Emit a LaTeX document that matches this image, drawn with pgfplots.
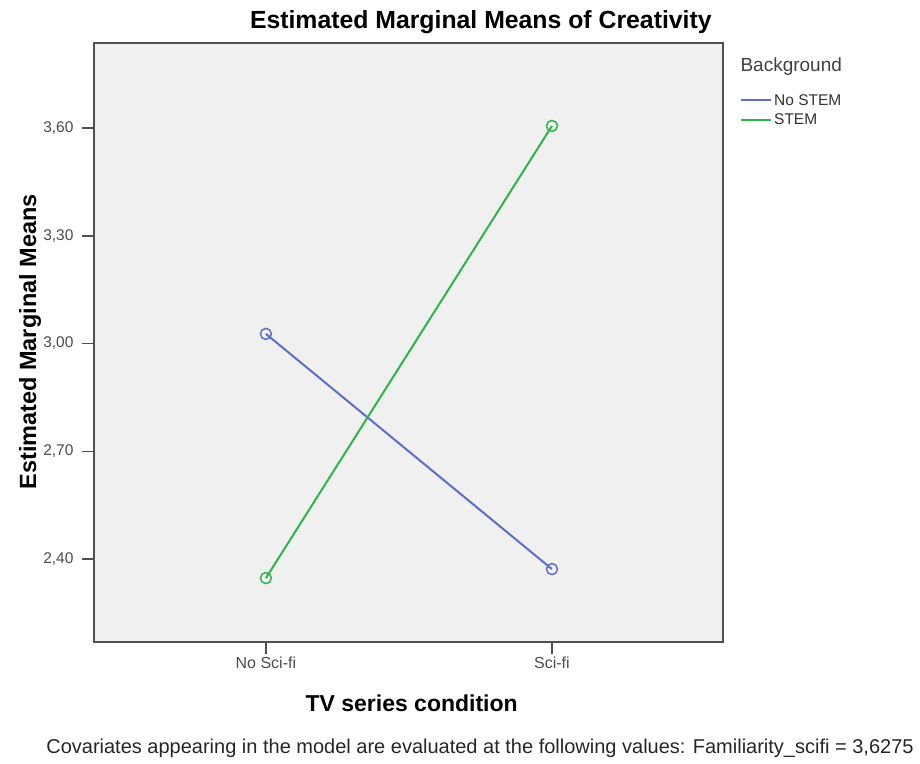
\documentclass[border=0pt]{standalone}
\usepackage{fontspec}
\setmainfont{Liberation Sans}
\usepackage{pgfplots}
\pgfplotsset{compat=1.18}
\definecolor{nostem}{RGB}{94,110,200}
\definecolor{stem}{RGB}{46,180,72}
\definecolor{framec}{RGB}{80,80,80}
\definecolor{bgc}{RGB}{240,240,240}
\begin{document}
\begin{tikzpicture}
\useasboundingbox (0,0) rectangle (920pt,763pt);
\begin{axis}[
  at={(94pt,121pt)}, anchor=south west,
  scale only axis, width=629pt, height=599pt,
  xmin=-0.601, xmax=1.598, ymin=2.169, ymax=3.837,
  xtick={0,1}, xticklabels={No Sci-fi, Sci-fi},
  ytick={2.4,2.7,3.0,3.3,3.6},
  yticklabel style={xshift=-5pt, /pgf/number format/.cd, fixed, fixed zerofill, precision=2, use comma},
  /pgf/number format/assume math mode=true,
  axis background/.style={fill=bgc},
  axis line style={framec, line width=2pt},
  tick style={framec, line width=1.5pt},
  tick align=outside, major tick length=12pt,
  xtick pos=bottom, ytick pos=left,
  ticklabel style={font=\fontsize{15.5}{17}\selectfont, text=black!70},
  xticklabel style={font=\fontsize{16}{18}\selectfont, yshift=1pt},
  title={Estimated Marginal Means of Creativity},
  title style={font=\bfseries\fontsize{24.8}{27}\selectfont, at={(axis description cs:0.615,1.024)}, anchor=center},
  xlabel={TV series condition},
  xlabel style={font=\bfseries\fontsize{23}{26}\selectfont, at={(axis description cs:0.505,-0.1018)}, anchor=center},
  ylabel={Estimated Marginal Means},
  ylabel style={font=\bfseries\fontsize{23.5}{26}\selectfont, at={(axis description cs:-0.1017,0.501)}, anchor=center},
  legend style={at={(axis description cs:1.027,0.918)}, anchor=north west, draw=none, fill=none,
    font=\fontsize{15.5}{17}\selectfont, text=black!80, row sep=3pt, inner sep=0pt,
    /tikz/every even column/.append style={column sep=0pt}},
  legend cell align=left,
  legend image code/.code={\draw[#1, line width=2pt] (0pt,0pt) -- (30pt,0pt);},
]
\addplot[nostem, line width=2pt, mark=o, mark size=5.5pt, mark options={line width=1.5pt}]
  coordinates {(0,3.027) (1,2.372)};
\addlegendentry{No STEM}
\addplot[stem, line width=2pt, mark=o, mark size=5.5pt, mark options={line width=1.5pt}]
  coordinates {(0,2.347) (1,3.606)};
\addlegendentry{STEM}
\end{axis}
\node[anchor=base west, font=\fontsize{19}{21}\selectfont, text=black!75] at (737pt,691pt) {Background};
\node[font=\fontsize{20}{22}\selectfont, text=black!85] at (480pt,15pt) {Covariates appearing in the model are evaluated at the following values: Familiarity\_scifi = 3,6275};
\end{tikzpicture}
\end{document}
